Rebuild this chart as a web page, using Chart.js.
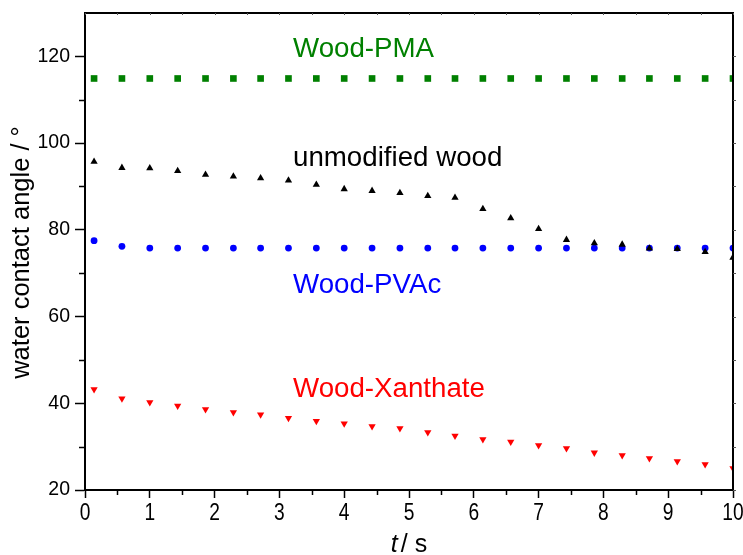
<!DOCTYPE html>
<html>
<head>
<meta charset="utf-8">
<script src="https://cdn.jsdelivr.net/npm/chart.js@4.4.1/dist/chart.umd.min.js"></script>
<style>
  html, body { margin: 0; padding: 0; background: #ffffff; }
  #wrap { width: 743px; height: 555px; }
</style>
</head>
<body>
<div id="wrap"><canvas id="c" width="743" height="555"></canvas></div>
<script>
// Contact angle of a water droplet over time for each wood surface
const timeS = [0.14, 0.57, 1.00, 1.43, 1.86, 2.29, 2.71, 3.14, 3.57, 4.00, 4.43, 4.86,
               5.29, 5.71, 6.14, 6.57, 7.00, 7.43, 7.86, 8.29, 8.71, 9.14, 9.57, 10.00];

const woodPMA = [114.9, 114.9, 114.9, 114.9, 114.9, 114.9, 114.9, 114.9, 114.9, 114.9, 114.9, 114.9,
                 114.9, 114.9, 114.9, 114.9, 114.9, 114.9, 114.9, 114.9, 114.9, 114.9, 114.9, 114.9];

const unmodifiedWood = [95.7, 94.3, 94.2, 93.6, 92.7, 92.3, 91.9, 91.4, 90.4, 89.4, 89.0, 88.5,
                        87.8, 87.4, 84.8, 82.7, 80.2, 77.7, 76.9, 76.6, 75.7, 75.6, 74.9, 73.6];

const woodPVAc = [77.5, 76.2, 75.8, 75.8, 75.8, 75.8, 75.8, 75.8, 75.8, 75.8, 75.8, 75.8,
                  75.8, 75.8, 75.8, 75.8, 75.8, 75.8, 75.8, 75.8, 75.8, 75.8, 75.8, 75.8];

const woodXanthate = [43.2, 41.1, 40.2, 39.4, 38.6, 37.9, 37.4, 36.6, 35.9, 35.3, 34.7, 34.2,
                      33.3, 32.5, 31.7, 31.1, 30.3, 29.6, 28.6, 28.0, 27.3, 26.6, 25.9, 25.0];

const seriesNames = ['Wood-PMA', 'unmodified wood', 'Wood-PVAc', 'Wood-Xanthate'];

const xTickValues = [0, 1, 2, 3, 4, 5, 6, 7, 8, 9, 10];
const xTickLabels = ['0', '1', '2', '3', '4', '5', '6', '7', '8', '9', '10'];
const xMinorValues = [0.5, 1.5, 2.5, 3.5, 4.5, 5.5, 6.5, 7.5, 8.5, 9.5];
const yTickValues = [20, 40, 60, 80, 100, 120];
const yMinorValues = [30, 50, 70, 90, 110];

const seriesColors = ['#008000', '#000000', '#0000ff', '#ff0000'];

// Where each series name is written, in axis units (left edge, baseline)
const nameAnchors = [
  { t: 3.21, v: 119.9 },
  { t: 3.21, v: 94.8 },
  { t: 3.21, v: 65.4 },
  { t: 3.21, v: 41.5 }
];

const toPoints = (ys) => ys.map((y, i) => ({ x: timeS[i], y: y }));

const AXIS_W = 2;
const SANS = '"Liberation Sans", Arial, sans-serif';

const framePlugin = {
  id: 'frameAndLabels',
  afterDraw(chart) {
    const ctx = chart.ctx;
    const a = chart.chartArea;
    const xs = chart.scales.x;
    const ys = chart.scales.y;
    ctx.save();
    ctx.strokeStyle = '#000';

    // top and right edges of the frame
    ctx.lineWidth = AXIS_W;
    ctx.beginPath();
    ctx.moveTo(a.left - 1, a.top);
    ctx.lineTo(a.right, a.top);
    ctx.lineTo(a.right, a.bottom + 1);
    ctx.stroke();

    // minor ticks on the bottom and left axes
    ctx.lineWidth = 1.5;
    ctx.beginPath();
    xMinorValues.forEach(v => {
      const px = Math.round(xs.getPixelForValue(v)) + 0.5;
      ctx.moveTo(px, a.bottom);
      ctx.lineTo(px, a.bottom + 5);
    });
    yMinorValues.forEach(v => {
      const py = Math.round(ys.getPixelForValue(v)) + 0.5;
      ctx.moveTo(a.left, py);
      ctx.lineTo(a.left - 6, py);
    });
    ctx.stroke();

    // faint short ticks on the top and right edges
    ctx.lineWidth = 1;
    ctx.strokeStyle = '#555';
    ctx.beginPath();
    yTickValues.concat(yMinorValues).forEach(v => {
      const py = Math.round(ys.getPixelForValue(v)) + 0.5;
      ctx.moveTo(a.right, py);
      ctx.lineTo(a.right + 3, py);
    });
    xTickValues.concat(xMinorValues).forEach(v => {
      const px = Math.round(xs.getPixelForValue(v)) + 0.5;
      ctx.moveTo(px, a.top);
      ctx.lineTo(px, a.top + 2);
    });
    ctx.stroke();

    // x tick labels in a condensed face
    ctx.fillStyle = '#000';
    ctx.font = '24px ' + SANS;
    ctx.textAlign = 'center';
    ctx.textBaseline = 'alphabetic';
    xTickValues.forEach((v, i) => {
      ctx.save();
      ctx.translate(xs.getPixelForValue(v), a.bottom + 29.5);
      ctx.scale(0.8, 1);
      ctx.fillText(xTickLabels[i], 0, 0);
      ctx.restore();
    });

    // series names
    ctx.textAlign = 'left';
    ctx.textBaseline = 'alphabetic';
    ctx.font = '27.7px ' + SANS;
    seriesNames.forEach((name, i) => {
      ctx.fillStyle = seriesColors[i];
      ctx.fillText(name, xs.getPixelForValue(nameAnchors[i].t), ys.getPixelForValue(nameAnchors[i].v));
    });

    // axis titles
    ctx.fillStyle = '#000';
    const cx = (a.left + a.right) / 2;
    ctx.font = 'italic 25px ' + SANS;
    const tW = ctx.measureText('t').width;
    ctx.font = '25px ' + SANS;
    const restW = ctx.measureText('/ s').width;
    const gap = 3;
    const startX = cx - (tW + gap + restW) / 2;
    ctx.font = 'italic 25px ' + SANS;
    ctx.fillText('t', startX, 552);
    ctx.font = '25px ' + SANS;
    ctx.fillText('/ s', startX + tW + gap, 552);

    ctx.translate(22, (a.top + a.bottom) / 2 + 1);
    ctx.rotate(-Math.PI / 2);
    ctx.textAlign = 'center';
    ctx.textBaseline = 'middle';
    ctx.font = '25.5px ' + SANS;
    ctx.fillText('water contact angle / \u00B0', 0, 0);
    ctx.restore();
  }
};

const mk = (label, data, color, style, radius, rotation) => ({
  label: label,
  data: toPoints(data),
  showLine: false,
  pointStyle: style,
  pointRadius: radius,
  pointRotation: rotation,
  pointBackgroundColor: color,
  pointBorderColor: color,
  pointBorderWidth: 0,
  backgroundColor: color,
  borderColor: color
});

new Chart(document.getElementById('c'), {
  type: 'scatter',
  data: {
    datasets: [
      mk(seriesNames[0], woodPMA, seriesColors[0], 'rect', 4.7, 0),
      mk(seriesNames[1], unmodifiedWood, seriesColors[1], 'triangle', 4.2, 0),
      mk(seriesNames[2], woodPVAc, seriesColors[2], 'circle', 3.4, 0),
      mk(seriesNames[3], woodXanthate, seriesColors[3], 'triangle', 4.2, 180)
    ]
  },
  options: {
    responsive: false,
    devicePixelRatio: 1,
    animation: false,
    events: [],
    layout: { padding: { left: 0, top: 13, right: 10, bottom: 0 } },
    plugins: {
      legend: { display: false },
      tooltip: { enabled: false },
      title: { display: false }
    },
    scales: {
      x: {
        type: 'linear',
        min: 0,
        max: 10,
        afterBuildTicks: (s) => { s.ticks = xTickValues.map(v => ({ value: v })); },
        afterFit: (s) => { s.height = 65; s.paddingLeft = 0; s.paddingRight = 0; },
        border: { display: true, color: '#000', width: AXIS_W },
        grid: { drawOnChartArea: false, drawTicks: true, tickLength: 8, tickWidth: 1.5, tickColor: '#000', color: '#000' },
        ticks: { display: false }
      },
      y: {
        type: 'linear',
        min: 20,
        max: 130,
        afterBuildTicks: (s) => { s.ticks = yTickValues.map(v => ({ value: v })); },
        afterFit: (s) => { s.width = 85; s.paddingTop = 0; s.paddingBottom = 0; },
        border: { display: true, color: '#000', width: AXIS_W },
        grid: { drawOnChartArea: false, drawTicks: true, tickLength: 10, tickWidth: 1.5, tickColor: '#000', color: '#000' },
        ticks: {
          padding: 5,
          color: '#000',
          autoSkip: false,
          font: { family: SANS, size: 19.5 }
        }
      }
    }
  },
  plugins: [framePlugin]
});
</script>
</body>
</html>
